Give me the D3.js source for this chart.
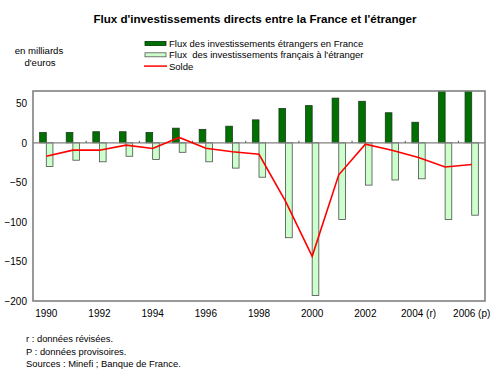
<!DOCTYPE html>
<html>
<head>
	<meta charset="utf-8">
	<title></title>
	<script src="https://cdn.jsdelivr.net/npm/d3@7"></script>
	<style>
		body { margin: 0; background: #fff; }
		text { font-family: "Liberation Sans", Arial, sans-serif; fill: #000; white-space: pre; }
	</style>
</head>
<body>
	<svg id="chart" width="500" height="383"></svg>

	<script type="text/javascript">
		// data (milliards d'euros)
		var years = ["1990","1991","1992","1993","1994","1995","1996","1997","1998",
			"1999","2000","2001","2002","2003","2004","2005","2006"];
		var fluxEtrangers = [13, 13, 14, 14, 13, 18.5, 17, 21, 29, 43.5, 47, 56.5, 52.5, 38, 26, 67, 66];
		var fluxFrancais = [-30, -22, -24, -17, -21, -12, -24, -32, -43.5, -120, -193, -97, -53.5, -47, -45.5, -97, -91.5];
		var solde = [-17, -9.3, -9.3, -3, -7.2, 6.8, -7, -11.4, -14.5, -74, -143.5, -40.5, -1.7, -9.5, -18.5, -30.5, -27.4];
		var yTicks = [50, 0, -50, -100, -150, -200];
		var xLabels = {"1990":"1990","1992":"1992","1994":"1994","1996":"1996","1998":"1998",
			"2000":"2000","2002":"2002","2004":"2004 (r)","2006":"2006 (p)"};
		var legendNames = ["Flux des investissements étrangers en France",
			"Flux  des investissements français à l'étranger", "Solde"];
		var notes = ["r : données révisées.", "P : données provisoires.", "Sources : Minefi ; Banque de France."];

		function drawChart() {
			var svg = d3.select("#chart");
			var plotLeft = 33, plotRight = 485, plotTop = 91, plotBottom = 301;

			var x = d3.scaleBand().domain(years).range([plotLeft, plotRight]);
			var y = d3.scaleLinear().domain([-200, 65.5]).range([plotBottom, plotTop]);
			var bw = x.bandwidth() * 0.25;

			// title
			svg.append("text")
				.attr("x", 255).attr("y", 23)
				.attr("text-anchor", "middle")
				.style("font-weight", "bold")
				.style("font-size", "11.6px")
				.text("Flux d'investissements directs entre la France et l'étranger");

			svg.append("text").attr("x", 39).attr("y", 54).attr("text-anchor", "middle")
				.style("font-size", "9.6px").text("en milliards");
			svg.append("text").attr("x", 40).attr("y", 66).attr("text-anchor", "middle")
				.style("font-size", "9.6px").text("d'euros");

			// legend
			var lg = svg.append("g");
			legendNames.forEach(function(name, i) {
				var ly = 43.5 + i * 11.3;
				if (i < 2) {
					lg.append("rect")
						.attr("x", 145).attr("y", ly - 2).attr("width", 21).attr("height", 4)
						.attr("fill", i == 0 ? "#007000" : "#ccffcc")
						.attr("stroke", i == 0 ? "#003300" : "#555").attr("stroke-width", 0.8);
				} else {
					lg.append("line")
						.attr("x1", 144).attr("x2", 167).attr("y1", ly).attr("y2", ly)
						.attr("stroke", "#ff0000").attr("stroke-width", 1.5);
				}
				lg.append("text").attr("x", 169).attr("y", ly + 3.5)
					.style("font-size", "9.5px").text(name);
			});

			// clip for bars that go past the top
			svg.append("clipPath").attr("id", "plotclip")
				.append("rect").attr("x", plotLeft).attr("y", plotTop)
				.attr("width", plotRight - plotLeft).attr("height", plotBottom - plotTop);

			var plot = svg.append("g").attr("clip-path", "url(#plotclip)");

			plot.selectAll("rect.pos")
				.data(fluxEtrangers)
				.enter().append("rect")
				.attr("class", "pos")
				.attr("x", function(d, i) { return x(years[i]) + x.bandwidth() / 2 - bw; })
				.attr("width", bw)
				.attr("y", function(d) { return y(d); })
				.attr("height", function(d) { return y(0) - y(d); })
				.attr("fill", "#007000")
				.attr("stroke", "#1a3a1a").attr("stroke-width", 0.8);

			plot.selectAll("rect.neg")
				.data(fluxFrancais)
				.enter().append("rect")
				.attr("class", "neg")
				.attr("x", function(d, i) { return x(years[i]) + x.bandwidth() / 2; })
				.attr("width", bw)
				.attr("y", y(0))
				.attr("height", function(d) { return y(d) - y(0); })
				.attr("fill", "#ccffcc")
				.attr("stroke", "#4d4d4d").attr("stroke-width", 0.8);

			// zero line
			svg.append("line")
				.attr("x1", plotLeft).attr("x2", plotRight)
				.attr("y1", y(0)).attr("y2", y(0))
				.attr("stroke", "#808080").attr("stroke-width", 1.2);

			// small tick marks on the category axis
			svg.selectAll("line.tk")
				.data(years.filter(function(d, i) { return i > 0 && i % 2 == 0; }))
				.enter().append("line")
				.attr("class", "tk")
				.attr("x1", function(d) { return x(d); }).attr("x2", function(d) { return x(d); })
				.attr("y1", y(0) - 2).attr("y2", y(0))
				.attr("stroke", "#555");

			var line = d3.line()
				.x(function(d, i) { return x(years[i]) + x.bandwidth() / 2; })
				.y(function(d) { return y(d); });

			svg.append("path")
				.datum(solde)
				.attr("d", line)
				.attr("fill", "none")
				.attr("stroke", "#ff0000")
				.attr("stroke-width", 1.6);

			// frame
			svg.append("rect")
				.attr("x", plotLeft).attr("y", plotTop)
				.attr("width", plotRight - plotLeft).attr("height", plotBottom - plotTop)
				.attr("fill", "none")
				.attr("stroke", "#808080").attr("stroke-width", 1.6);

			// y axis labels
			var yAxis = d3.axisLeft(y).tickValues(yTicks).tickSize(0).tickPadding(6);
			var ya = svg.append("g").attr("transform", "translate(" + plotLeft + ",0)").call(yAxis);
			ya.select(".domain").remove();
			ya.selectAll("text").style("font-size", "10px")
				.style("font-family", "'Liberation Sans', Arial, sans-serif");

			// x axis labels
			var xAxis = d3.axisBottom(x)
				.tickValues(years.filter(function(d) { return xLabels[d]; }))
				.tickFormat(function(d) { return xLabels[d]; })
				.tickSize(0).tickPadding(9);
			var xa = svg.append("g").attr("transform", "translate(0," + plotBottom + ")").call(xAxis);
			xa.select(".domain").remove();
			xa.selectAll("text").style("font-size", "10px")
				.style("font-family", "'Liberation Sans', Arial, sans-serif");

			// notes
			svg.selectAll("text.note")
				.data(notes)
				.enter().append("text")
				.attr("class", "note")
				.attr("x", 26)
				.attr("y", function(d, i) { return 342 + i * 12.5; })
				.style("font-size", "9.4px")
				.text(function(d) { return d; });
		}

		drawChart();
	</script>
</body>
</html>
